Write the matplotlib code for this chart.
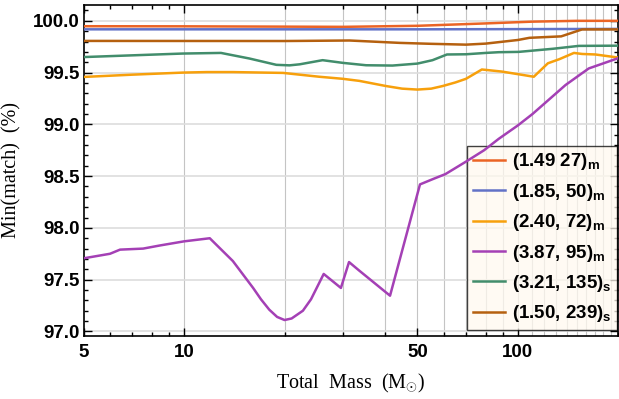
import numpy as np
import matplotlib.pyplot as plt
from matplotlib.ticker import FixedLocator, NullFormatter, MultipleLocator, FormatStrFormatter

plt.rcParams["mathtext.fontset"] = "custom"
plt.rcParams["mathtext.rm"] = "Liberation Serif"
plt.rcParams["mathtext.bf"] = "Liberation Sans:bold"

# ============================================================
# DATA
# ============================================================

labels = [
    r"(1.49 27)$_\mathbf{m}$",
    r"(1.85, 50)$_\mathbf{m}$",
    r"(2.40, 72)$_\mathbf{m}$",
    r"(3.87, 95)$_\mathbf{m}$",
    r"(3.21, 135)$_\mathbf{s}$",
    r"(1.50, 239)$_\mathbf{s}$",
]

mass_red = [5, 10, 20, 30, 50, 80, 110, 150, 200]
match_red = [99.948, 99.947, 99.944, 99.942, 99.952, 99.975, 99.992, 100.0, 100.0]

mass_blue = [5, 50, 100, 200]
match_blue = [99.918, 99.918, 99.920, 99.922]

mass_orange = [5, 7, 9.9, 11.7, 14, 19.8, 25.4, 29.9, 33.5, 40.3, 45, 50, 55,
               59.5, 65, 69.9, 78.0, 89.5, 100, 111.6, 123, 133.2, 147.2,
               155.7, 170.7, 200]
match_orange = [99.458, 99.48, 99.50, 99.505, 99.505, 99.497, 99.46, 99.44,
                99.42, 99.37, 99.345, 99.336, 99.345, 99.37, 99.405, 99.44,
                99.53, 99.51, 99.485, 99.46, 99.59, 99.63, 99.69, 99.68,
                99.675, 99.645]

mass_purple = [5, 6.0, 6.43, 7.54, 8.46, 10, 11.94, 14.0, 16.1, 17, 18, 19,
               20, 21, 22.7, 24.0, 26.2, 29.5, 31.2, 33.4, 41.4, 50.9, 55.5,
               60.7, 69.9, 79.2, 87.6, 100, 110.6, 138.9, 163, 200]
match_purple = [97.706, 97.75, 97.79, 97.80, 97.83, 97.87, 97.90, 97.68,
                97.42, 97.31, 97.21, 97.14, 97.11, 97.125, 97.20, 97.31,
                97.555, 97.42, 97.67, 97.59, 97.345, 98.42, 98.47, 98.52,
                98.64, 98.75, 98.86, 98.99, 99.10, 99.38, 99.54, 99.64]

mass_green = [5, 9.9, 12.9, 15.7, 18.9, 20.7, 22.2, 26.0, 29.9, 35.1, 42.1,
              50, 55.5, 61.3, 69.9, 80.1, 87.6, 100.5, 127.2, 152.3, 200]
match_green = [99.65, 99.684, 99.69, 99.636, 99.575, 99.57, 99.58, 99.62,
               99.594, 99.571, 99.568, 99.587, 99.62, 99.675, 99.677, 99.69,
               99.697, 99.70, 99.73, 99.758, 99.76]

mass_brown = [5, 20, 31.3, 44.3, 55, 69.9, 80.1, 100, 108.3, 134.8, 155.7, 200]
match_brown = [99.806, 99.805, 99.81, 99.787, 99.778, 99.77, 99.78, 99.815,
               99.836, 99.85, 99.917, 99.917]

masses = [mass_red, mass_blue, mass_orange, mass_purple, mass_green, mass_brown]
matches = [match_red, match_blue, match_orange, match_purple, match_green, match_brown]

colors = ["#EB6425", "#6272C7", "#F7A00C", "#A440B5", "#428D6C", "#B5600F"]

x_major = [5, 10, 50, 100]
grid_x = list(range(10, 210, 10))
grid_y = [97.0, 97.5, 98.0, 98.5, 99.0, 99.5, 100.0]

# ============================================================
# PLOT
# ============================================================

fig = plt.figure(figsize=(6.19, 3.99), dpi=100)
ax = fig.add_axes([0.135, 0.159, 0.864, 0.829])

for gx in grid_x:
    ax.axvline(gx, color="#C4C4C4", linewidth=0.8, zorder=0)
for gy in grid_y:
    ax.axhline(gy, color="#DDDDDD", linewidth=1.2, zorder=0)

for m, v, c, lab in zip(masses, matches, colors, labels):
    ax.plot(m, v, color=c, linewidth=1.8, label=lab, zorder=3)

ax.set_xscale("log")
ax.set_xlim(5, 200)
ax.set_ylim(96.96, 100.155)

ax.xaxis.set_major_locator(FixedLocator(x_major))
ax.xaxis.set_major_formatter(FormatStrFormatter("%d"))
ax.xaxis.set_minor_locator(FixedLocator([6, 7, 8, 9, 20, 30, 40, 60, 70, 80, 90, 200]))
ax.xaxis.set_minor_formatter(NullFormatter())
ax.yaxis.set_major_locator(MultipleLocator(0.5))
ax.yaxis.set_minor_locator(MultipleLocator(0.1))
ax.yaxis.set_major_formatter(FormatStrFormatter("%.1f"))

ax.tick_params(which="both", direction="in", top=True, right=True, width=1)
ax.tick_params(which="major", length=6)
ax.tick_params(which="minor", length=3)
for lbl in ax.get_xticklabels() + ax.get_yticklabels():
    lbl.set_fontfamily("Liberation Sans")
    lbl.set_fontweight("bold")
    lbl.set_fontsize(13.5)
ax.tick_params(axis="x", pad=6)
ax.tick_params(axis="y", pad=3)

for sp in ax.spines.values():
    sp.set_linewidth(1.2)

ax.set_xlabel(r"Total  Mass  (M$_{\odot}$)", family="Liberation Serif", fontsize=14.5, labelpad=8)
ax.set_ylabel("Min(match)  (%)", family="Liberation Serif", fontsize=14.5, labelpad=8)

leg = ax.legend(
    loc="lower right",
    bbox_to_anchor=(0.997, 0.017),
    borderaxespad=0,
    prop={"family": "Liberation Sans", "weight": "bold", "size": 13.5},
    handlelength=1.7,
    handletextpad=0.35,
    labelspacing=0.5,
    borderpad=0.3,
    fancybox=False,
    frameon=True,
    framealpha=0.75,
)
leg.get_frame().set_facecolor("#FFF9EF")
leg.get_frame().set_edgecolor("black")
leg.get_frame().set_linewidth(1.0)
leg.set_zorder(2)

fig.savefig("out.png", dpi=100)
